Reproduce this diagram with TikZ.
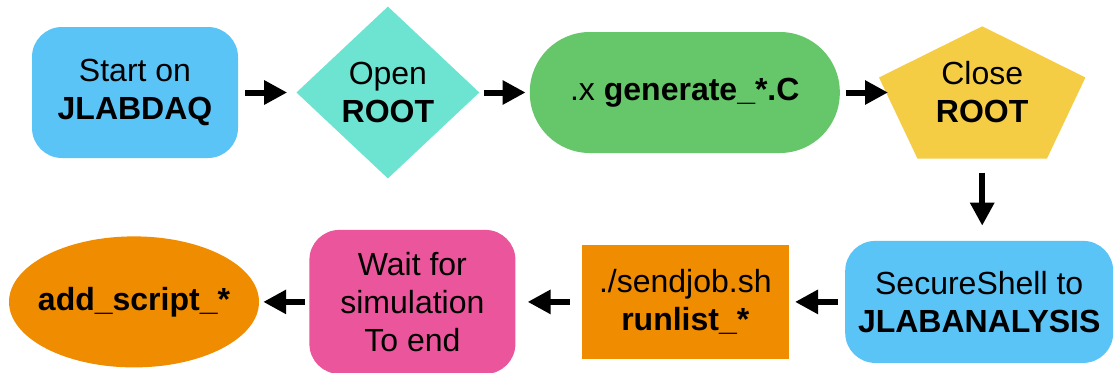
\documentclass[tikz,border=0pt]{standalone}
\usepackage{fontspec}
\setmainfont{Liberation Sans}
\usepackage{xcolor}
\usepackage{tikz}
\usetikzlibrary{shapes, arrows.meta, positioning, backgrounds}

\definecolor{daqblue}{RGB}{90,196,247}
\definecolor{rootteal}{RGB}{109,227,209}
\definecolor{macrogreen}{RGB}{102,198,106}
\definecolor{closeyellow}{RGB}{245,205,69}
\definecolor{joborange}{RGB}{239,140,0}
\definecolor{waitpink}{RGB}{234,85,156}

\begin{document}
\begin{tikzpicture}[x=1pt, y=-1pt, >={Triangle[length=23pt, width=23pt]},
					step text/.style={align=center, inner sep=0pt, font=\fontsize{32}{38}\selectfont},
					roundbox/.style={step text, rectangle, rounded corners=30pt, minimum width=206pt, minimum height=131pt},
					decision/.style={step text, diamond, minimum width=183pt, minimum height=172pt},
					macro/.style={step text, rectangle, rounded corners=60pt, minimum width=310pt, minimum height=121pt, fill=macrogreen},
					jobbox/.style={step text, rectangle, minimum width=207pt, minimum height=114pt, fill=joborange},
					result/.style={step text, ellipse, inner xsep=-12pt, minimum width=250pt, minimum height=131pt, fill=joborange},
					arrow/.style={->, line width=6pt}
				]
					\useasboundingbox (0,0) rectangle (1115,372);
					
					% Nodes
					\node[roundbox, fill=daqblue] (start) at (135,92.5) {Start on\\\textbf{JLABDAQ}};
					\node[decision, fill=rootteal, right=58pt of start] (open) {Open\\\textbf{ROOT}};
					\node[macro, right=50pt of open] (gen) {.x \textbf{generate\_*.C}};
					\node[step text, minimum width=206pt, minimum height=132pt, right=39pt of gen] (close) {Close\\\textbf{ROOT}};
					\node[roundbox, fill=daqblue, minimum width=268pt, minimum height=122pt, below=82pt of close, xshift=-3pt] (ssh) {SecureShell to\\\textbf{JLABANALYSIS}};
					\node[jobbox, left=56pt of ssh] (send) {./sendjob.sh\\\textbf{runlist\_*}};
					\node[roundbox, fill=waitpink, minimum height=144pt, left=66pt of send] (wait) {Wait for\\simulation\\To end};
					\node[result, left=50pt of wait] (add) {\textbf{add\_script\_*}};
					
					% Pentagon behind the close step
					\begin{scope}[on background layer]
						\fill[closeyellow] (close.north) -- ([yshift=15pt]close.east) -- ([xshift=-38.5pt]close.south east)
							-- ([xshift=38.5pt]close.south west) -- ([yshift=15pt]close.west) -- cycle;
					\end{scope}
					
					% Arrows
					\draw[arrow, shorten <=7pt, shorten >=9pt] (start.east) -- (open.west);
					\draw[arrow, shorten <=4pt, shorten >=4pt] (open.east) -- (gen.west);
					\draw[arrow, shorten <=6pt, shorten >=-9pt] (gen.east) -- (close.west);
					\draw[arrow, shorten <=14pt, shorten >=15pt] (close.south) -- (ssh.north -| close.south);
					\draw[arrow, shorten <=7pt, shorten >=6pt] (ssh.west) -- (send.east);
					\draw[arrow, shorten <=12pt, shorten >=12pt] (send.west) -- (wait.east);
					\draw[arrow, shorten <=4pt, shorten >=4pt] (wait.west) -- (add.east);
				\end{tikzpicture}
\end{document}
